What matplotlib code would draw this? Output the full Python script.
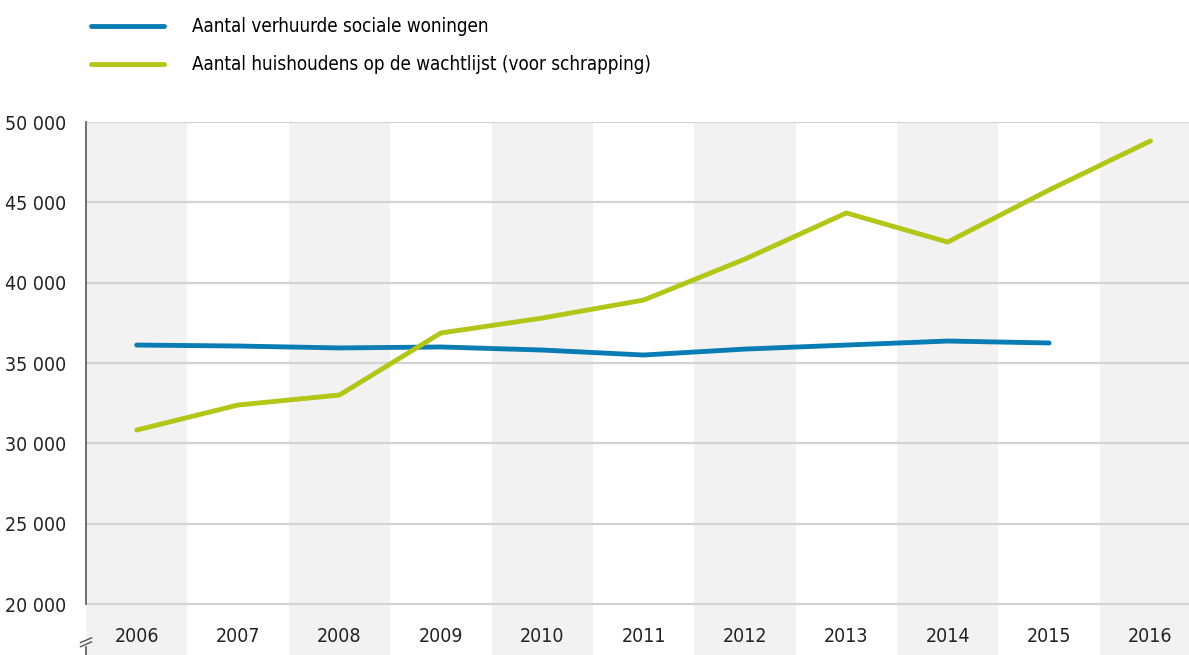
import matplotlib.pyplot as plt
import matplotlib.transforms as mtransforms

years = [2006, 2007, 2008, 2009, 2010, 2011, 2012, 2013, 2014, 2015, 2016]
verhuurd = [36120, 36060, 35940, 36000, 35810, 35500, 35870, 36120, 36370, 36250]
wachtlijst = [30830, 32390, 33010, 36870, 37800, 38920, 41470, 44340, 42530, 45770, 48820]
yticks = [20000, 25000, 30000, 35000, 40000, 45000, 50000]
ytick_labels = ['20 000', '25 000', '30 000', '35 000', '40 000', '45 000', '50 000']
labels = ['Aantal verhuurde sociale woningen',
          'Aantal huishoudens op de wachtlijst (voor schrapping)']

blue = '#0a7cb5'
green = '#b3c617'

plt.rcParams['font.family'] = ['DejaVu Sans']
plt.rcParams['font.stretch'] = 'condensed'

fig = plt.figure(figsize=(11.89, 6.55), dpi=100)
ax = fig.add_axes([86 / 1189, 0, 1 - 86 / 1189, 1 - 122 / 655])

# alternating grey columns
for i, yr in enumerate(years):
    if i % 2 == 0:
        ax.axvspan(yr - 0.5, yr + 0.5, color='#f2f2f2', lw=0, zorder=0)

for v in yticks:
    ax.axhline(v, color='#d3d3d3', lw=1.6, zorder=1)

l1, = ax.plot(years[:len(verhuurd)], verhuurd, color=blue, lw=3.5,
              solid_capstyle='round', zorder=3)
l2, = ax.plot(years, wachtlijst, color=green, lw=3.5,
              solid_capstyle='round', zorder=3)

ax.set_xlim(2005.5, 2016.38)
ax.set_ylim(16833, 50000)

ax.set_yticks(yticks)
ax.set_yticklabels(ytick_labels, fontsize=14, color='#222222')
off = mtransforms.ScaledTranslation(0, -8 / 100, fig.dpi_scale_trans)
for t in ax.get_yticklabels():
    t.set_transform(t.get_transform() + off)
ax.tick_params(axis='y', length=0, pad=14)
ax.set_xticks([])

for yr in years:
    ax.text(yr, 0.035, str(yr), transform=ax.get_xaxis_transform(),
            ha='center', va='center', fontsize=14, color='#222222')

for s in ['top', 'right', 'bottom']:
    ax.spines[s].set_visible(False)
ax.spines['left'].set_bounds(20000, 50000)
ax.spines['left'].set_color('#555555')
ax.spines['left'].set_linewidth(1.2)

# axis break marks
tr = ax.get_yaxis_transform()
ax.plot([0, 0], [16833, 17350], color='#555555', lw=1.2, transform=tr, clip_on=False)
for dy in [0, 250]:
    ax.plot([-0.005, 0.005], [17350 + dy, 17650 + dy], color='#555555', lw=1,
            transform=tr, clip_on=False)

fig.legend([l1, l2], labels, loc='upper left', bbox_to_anchor=(83 / 1189, 1 - 10 / 655),
           frameon=False, fontsize=13.5, handlelength=3.9, handletextpad=1.5,
           labelspacing=1.0, borderaxespad=0)

fig.savefig('out.png', dpi=100)
